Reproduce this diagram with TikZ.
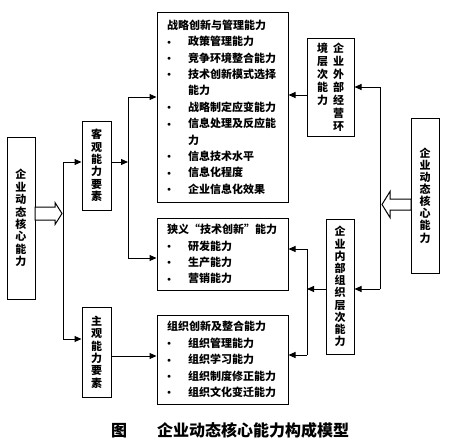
\documentclass[tikz,border=0pt]{standalone}
\usepackage{fontspec}
\newfontfamily\cjk{Noto Sans CJK SC}
\usetikzlibrary{arrows.meta}

\newcommand{\litem}[1]{\makebox[21pt][l]{\raisebox{1.5pt}{\scriptsize$\bullet$}}#1}
\newcommand{\lcont}[1]{\hspace*{21pt}#1}

\tikzset{
  box/.style={draw,line width=1pt,inner sep=0pt},
  vbox/.style={box,align=center,font=\cjk\bfseries\fontsize{11}{12.4}\selectfont},
  lbox/.style={box,align=left,inner xsep=10pt,text width=111pt,minimum width=131pt,font=\cjk\bfseries\fontsize{11}{16.4}\selectfont},
  link/.style={line width=1pt},
  arr/.style={line width=1pt,-{Triangle[length=7pt,width=6pt]}},
  blockarr/.style={line width=1pt,fill=white,line join=miter}
}

\begin{document}
\begin{tikzpicture}[x=1pt,y=-1pt]
\useasboundingbox (0,0) rectangle (450,445);

%core (left)
\node (lcore) at (21,218) [vbox,minimum width=28pt,minimum height=162pt] {企\\业\\动\\态\\核\\心\\能\\力};

%elements
\node (obj)  at (96.5,165.5) [vbox,minimum width=29pt,minimum height=89pt] {客\\观\\能\\力\\要\\素};
\node (subj) at (96.5,352)   [vbox,minimum width=29pt,minimum height=90pt] {主\\观\\能\\力\\要\\素};

%abilities
\node (strat) at (222.5,107) [lbox,minimum height=190pt] {战略创新与管理能力\\
\litem{政策管理能力}\\
\litem{竞争环境整合能力}\\
\litem{技术创新模式选择}\\
\lcont{能力}\\
\litem{战略制定应变能力}\\
\litem{信息处理及反应能}\\
\lcont{力}\\
\litem{信息技术水平}\\
\litem{信息化程度}\\
\litem{企业信息化效果}};
\node (tech) at (222.5,254) [lbox,minimum height=72pt] {狭义“技术创新”能力\\
\litem{研发能力}\\
\litem{生产能力}\\
\litem{营销能力}};
\node (org) at (222.5,359.5) [lbox,minimum height=89pt] {组织创新及整合能力\\
\litem{组织管理能力}\\
\litem{组织学习能力}\\
\litem{组织制度修正能力}\\
\litem{组织文化变迁能力}};

%levels (right)
\node (ext) at (330.5,87) [box,minimum width=47pt,minimum height=98pt,font=\cjk\bfseries\fontsize{11}{13}\selectfont]
  {\parbox[t]{12pt}{\centering 境\\层\\次\\能\\力}\hspace{4pt}\parbox[t]{12pt}{\centering 企\\业\\外\\部\\经\\营\\环}};
\node (int) at (340,286.5) [vbox,minimum width=28pt,minimum height=135pt,font=\cjk\bfseries\fontsize{11}{12.2}\selectfont] {企\\业\\内\\部\\组\\织\\层\\次\\能\\力};
\node (rcore) at (425,195.5) [vbox,minimum width=28pt,minimum height=155pt,font=\cjk\bfseries\fontsize{11}{12.1}\selectfont] {企\\业\\动\\态\\核\\心\\能\\力};

%caption
\node (cap) at (230,430) [font=\cjk\bfseries\fontsize{16}{16}\selectfont] {图\hspace{30pt}企业动态核心能力构成模型};

%branch points
\coordinate (lt) at (63,162);
\coordinate (lb) at (63,339);
\coordinate (mt) at (128,97);
\coordinate (mm) at (128,162);
\coordinate (mb) at (128,258);
\coordinate (rt) at (380,87);
\coordinate (rb) at (380,289);
\coordinate (it) at (307,249);
\coordinate (im) at (307,289);
\coordinate (ib) at (307,355);
\coordinate (lba) at (35,213.5);
\coordinate (rba) at (411,204.5);

%left side
\draw[blockarr] (lba) ++(0,-6.5) -- ++(20,0) -- ++(0,-4.5) -- ++(7,11) -- ++(-7,11) -- ++(0,-4.5) -- ++(-20,0) -- cycle;
\draw[link] (lt) -- (lb);
\draw[arr] (lt) -- (lt -| obj.west);
\draw[arr] (lb) -- (lb -| subj.west);
\draw[arr] (obj.east |- mm) -- (mm);
\draw[link] (mt) -- (mb);
\draw[arr] (mt) -- (mt -| strat.west);
\draw[arr] (mb) -- (mb -| tech.west);
\draw[arr] ([yshift=-4pt]subj.east) -- ([yshift=-4pt]subj.east -| org.west);

%right side
\draw[blockarr] (rba) ++(0,-5.5) -- ++(-21,0) -- ++(0,-7.5) -- ++(-8,13) -- ++(8,13) -- ++(0,-7.5) -- ++(21,0) -- cycle;
\draw[link] (rt) -- (rb);
\draw[arr] (rt) -- (rt -| ext.east);
\draw[arr] (rb) -- (rb -| int.east);
\draw[arr] ([yshift=-8pt]ext.west) -- ([yshift=-8pt]ext.west -| strat.east);
\draw[arr] (int.west |- im) -- (im);
\draw[link] (it) -- (ib);
\draw[arr] (it) -- (it -| tech.east);
\draw[arr] (ib) -- (ib -| org.east);

\end{tikzpicture}
\end{document}
